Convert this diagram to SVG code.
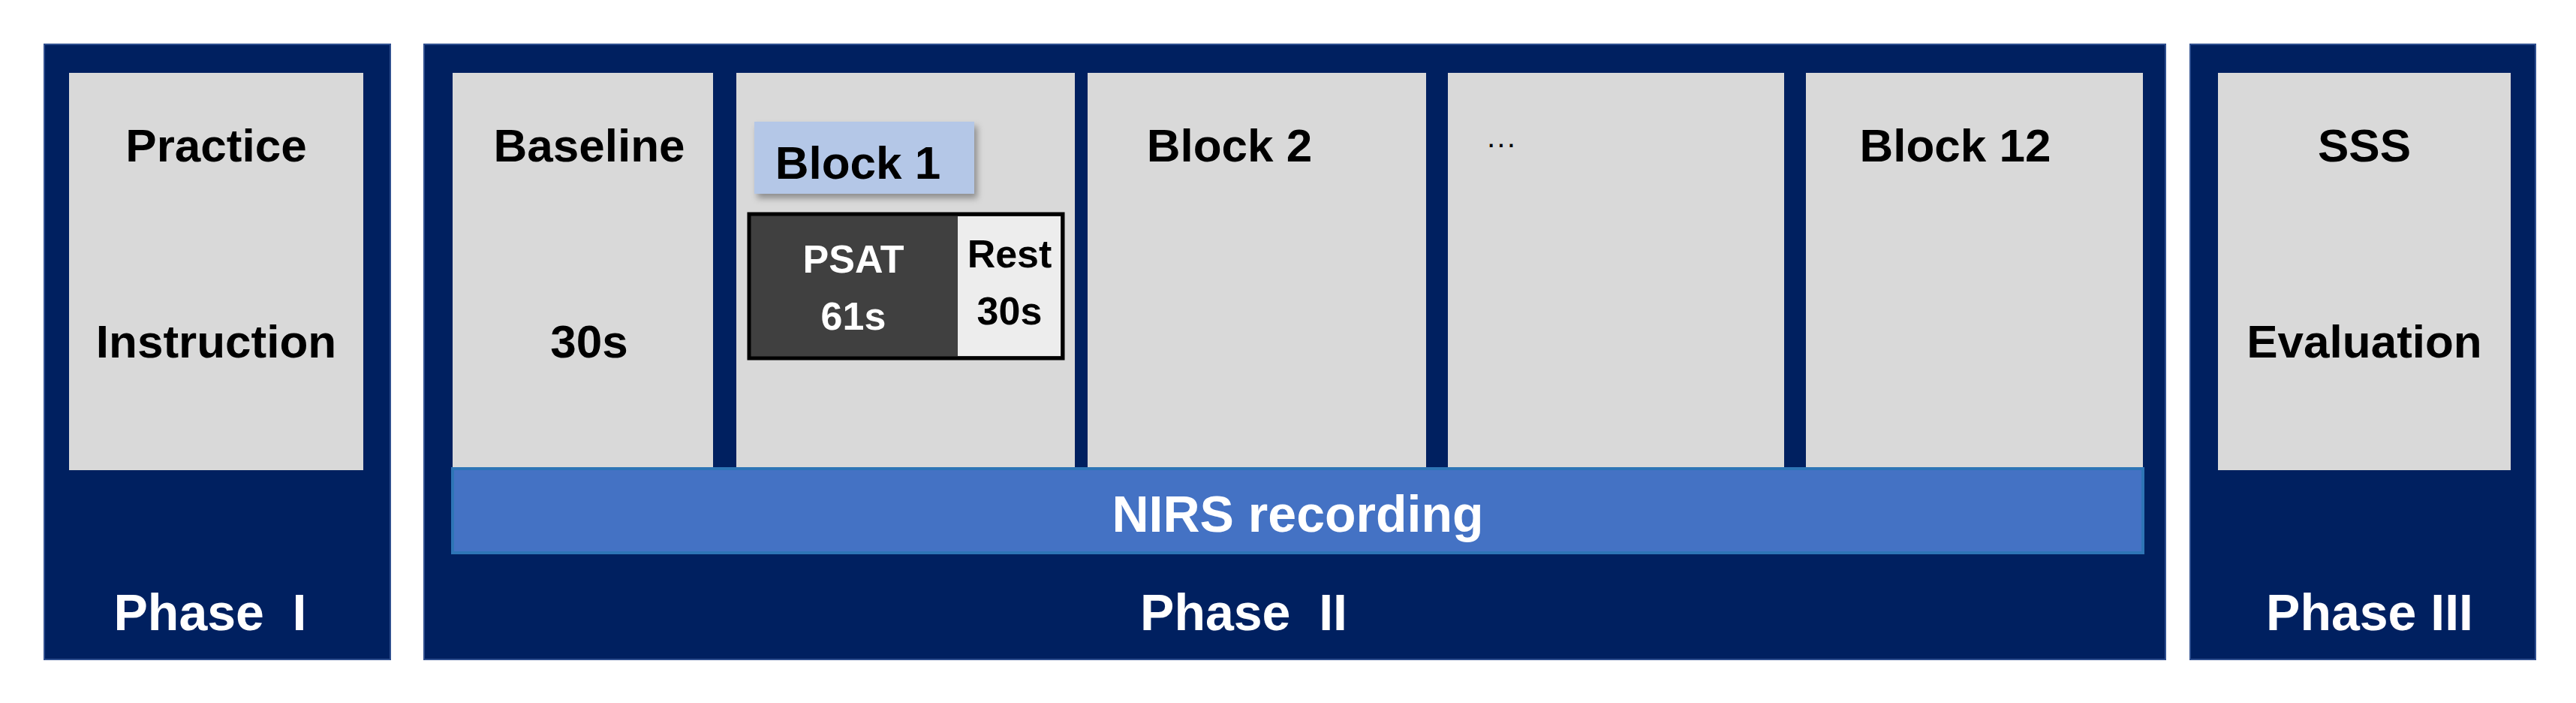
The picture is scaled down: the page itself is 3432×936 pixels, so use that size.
<svg xmlns="http://www.w3.org/2000/svg" width="3432" height="936" viewBox="0 0 3432 936">
<defs>
<style>
.phase{fill:#002060;stroke:#2f4f8f;stroke-width:2}
.cell{fill:#D9D9D9}
text{font-family:"Liberation Sans",Arial,sans-serif;font-weight:bold;text-anchor:middle}
.dk{fill:#000;font-size:62px}
.wt{fill:#fff;font-size:68px}
.sm{font-size:52px}
</style>
<filter id="sh" x="-10%" y="-10%" width="130%" height="140%"><feDropShadow dx="4" dy="6" stdDeviation="4" flood-color="#000" flood-opacity="0.35"/></filter>
</defs>
<rect width="3432" height="936" fill="#fff"/>
<g id="phase1">
<rect class="phase" x="59" y="59" width="461" height="819"/>
<rect class="cell" x="92" y="97" width="392" height="529"/>
<text class="dk" x="288" y="215">Practice</text>
<text class="dk" x="288" y="476">Instruction</text>
<text class="wt" x="280" y="839" xml:space="preserve">Phase  I</text>
</g>
<g id="phase2">
<rect class="phase" x="565" y="59" width="2320" height="819"/>
<text class="wt" x="1657" y="839" xml:space="preserve">Phase  II</text>
</g>
<g id="baseline">
<rect class="cell" x="603" y="97" width="347" height="529"/>
<text class="dk" x="785" y="215">Baseline</text>
<text class="dk" x="785" y="476">30s</text>
</g>
<g id="block1">
<rect class="cell" x="981" y="97" width="451" height="529"/>
<rect x="1005" y="162" width="293" height="96" fill="#B4C7E7" filter="url(#sh)"/>
<text class="dk" x="1143" y="238">Block 1</text>
</g>
<g id="psat">
<rect x="998" y="285" width="418" height="192" fill="#404040" stroke="#000" stroke-width="5"/>
<rect x="1276" y="288" width="137" height="186" fill="#EDEDED"/>
<text class="sm" x="1137" y="363" fill="#fff">PSAT</text>
<text class="sm" x="1137" y="439" fill="#fff">61s</text>
</g>
<g id="rest">
<text class="sm" x="1345" y="356" fill="#000">Rest</text>
<text class="sm" x="1345" y="432" fill="#000">30s</text>
</g>
<g id="block2">
<rect class="cell" x="1449" y="97" width="451" height="529"/>
<text class="dk" x="1638" y="215">Block 2</text>
</g>
<g id="dots">
<rect class="cell" x="1929" y="97" width="448" height="529"/>
<text x="2000" y="205" fill="#000" style="font-size:40px;font-weight:normal">···</text>
</g>
<g id="block12">
<rect class="cell" x="2406" y="97" width="449" height="529"/>
<text class="dk" x="2605" y="215">Block 12</text>
</g>
<g id="nirs">
<rect x="603" y="624" width="2252" height="112" fill="#4472C4" stroke="#2E75B6" stroke-width="4"/>
<text class="wt" x="1729" y="708">NIRS recording</text>
</g>
<g id="phase3">
<rect class="phase" x="2918" y="59" width="460" height="819"/>
<rect class="cell" x="2955" y="97" width="390" height="529"/>
<text class="dk" x="3150" y="215">SSS</text>
<text class="dk" x="3150" y="476">Evaluation</text>
<text class="wt" x="3157" y="839">Phase III</text>
</g>
<g id="connectors"/>
</svg>
